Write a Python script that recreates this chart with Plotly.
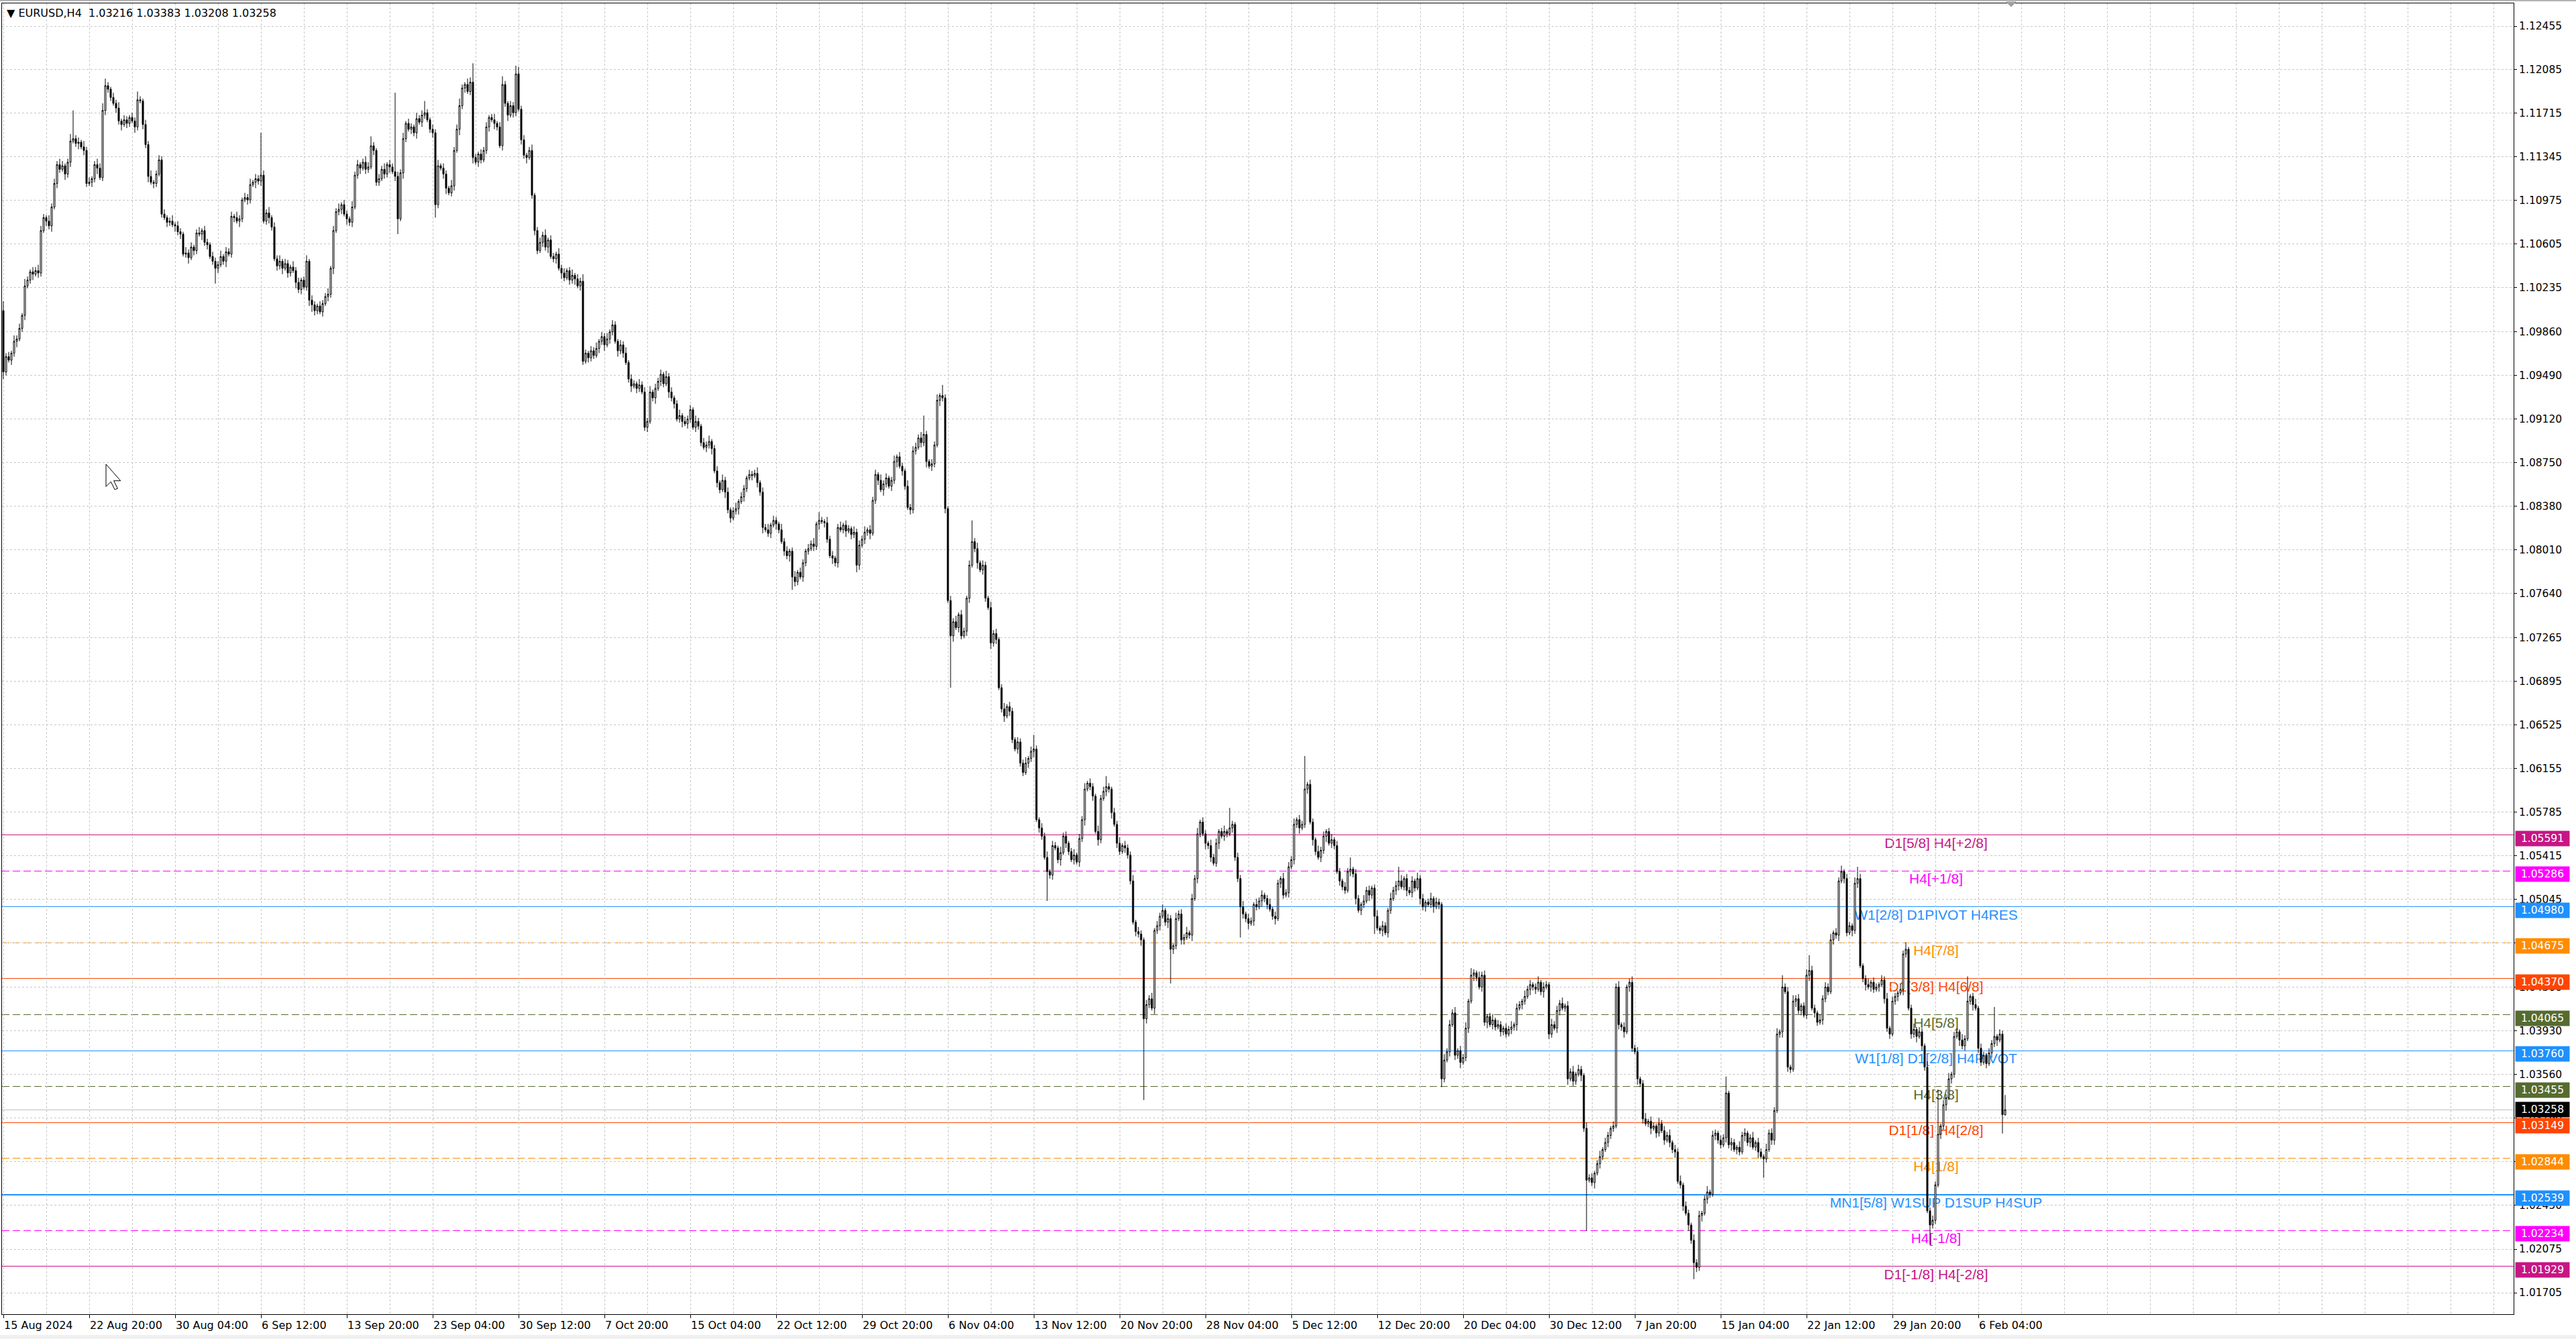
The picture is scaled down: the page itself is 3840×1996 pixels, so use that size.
import math
import plotly.graph_objects as go

# ---------------- data (prices in pips above 1.0000) ----------------
first_open_pips = 1004

close_pips = [
    952, 965, 962, 968, 978, 980, 989, 1000, 1025, 1030, 1037, 1035, 1038, 1036, 1072, 1083, 1080, 1076, 1092, 1112,
    1128, 1124, 1127, 1120, 1130, 1148, 1150, 1146, 1147, 1143, 1140, 1112, 1113, 1116, 1128, 1125, 1117, 1174, 1195, 1192,
    1185, 1180, 1176, 1165, 1162, 1166, 1163, 1168, 1165, 1160, 1183, 1182, 1162, 1145, 1118, 1113, 1112, 1120, 1132, 1086,
    1083, 1079, 1080, 1077, 1076, 1071, 1069, 1052, 1053, 1049, 1058, 1055, 1070, 1069, 1072, 1062, 1060, 1050, 1046, 1040,
    1043, 1050, 1046, 1054, 1052, 1084, 1083, 1080, 1082, 1098, 1100, 1098, 1111, 1113, 1116, 1114, 1119, 1080, 1087, 1083,
    1075, 1048, 1042, 1046, 1040, 1044, 1036, 1041, 1038, 1028, 1022, 1030, 1024, 1046, 1013, 1009, 1004, 1008, 1003, 1010,
    1016, 1018, 1040, 1072, 1088, 1090, 1094, 1086, 1082, 1079, 1092, 1119, 1128, 1125, 1130, 1124, 1126, 1144, 1140, 1113,
    1116, 1124, 1120, 1128, 1126, 1122, 1118, 1082, 1121, 1150, 1163, 1158, 1160, 1155, 1167, 1164, 1170, 1172, 1166, 1158,
    1155, 1094, 1127, 1125, 1120, 1108, 1104, 1110, 1140, 1158, 1178, 1193, 1196, 1190, 1198, 1134, 1130, 1137, 1132, 1140,
    1160, 1168, 1166, 1163, 1160, 1144, 1196, 1180, 1170, 1178, 1172, 1205, 1175, 1149, 1136, 1134, 1140, 1102, 1072, 1055,
    1062, 1068, 1058, 1064, 1050, 1048, 1052, 1040, 1036, 1032, 1038, 1030, 1034, 1031, 1025, 1029, 961, 968, 964, 970,
    966, 972, 978, 982, 975, 980, 986, 992, 978, 970, 975, 968, 960, 946, 940, 942, 938, 941, 935, 905,
    910, 935, 930, 938, 944, 950, 942, 948, 935, 930, 925, 912, 915, 910, 908, 912, 920, 905, 910, 906,
    892, 888, 890, 893, 887, 868, 858, 852, 860, 850, 835, 828, 834, 836, 842, 846, 853, 862, 865, 864,
    866, 858, 850, 820, 818, 815, 822, 826, 823, 818, 808, 800, 796, 800, 778, 774, 782, 778, 790, 800,
    802, 806, 804, 823, 826, 825, 824, 810, 796, 794, 790, 820, 818, 822, 817, 819, 814, 816, 788, 805,
    810, 816, 818, 815, 843, 865, 860, 852, 857, 862, 855, 860, 876, 880, 872, 868, 855, 837, 835, 885,
    888, 896, 892, 899, 876, 872, 874, 890, 928, 932, 930, 836, 758, 728, 740, 735, 746, 728, 732, 760,
    788, 808, 802, 790, 784, 788, 760, 752, 722, 730, 725, 684, 666, 660, 668, 664, 640, 632, 638, 620,
    612, 620, 624, 630, 632, 572, 565, 558, 540, 528, 525, 550, 548, 538, 544, 558, 552, 545, 538, 542,
    536, 556, 572, 598, 603, 600, 592, 562, 555, 590, 596, 600, 598, 578, 568, 552, 545, 550, 548, 542,
    520, 485, 477, 475, 470, 403, 415, 420, 412, 478, 482, 490, 495, 485, 488, 462, 465, 488, 492, 470,
    472, 476, 474, 505, 522, 560, 570, 560, 552, 550, 540, 535, 552, 562, 558, 562, 560, 565, 568, 540,
    522, 498, 492, 488, 484, 486, 500, 498, 503, 508, 505, 500, 496, 490, 488, 518, 522, 508, 510, 532,
    538, 568, 572, 565, 568, 598, 602, 570, 555, 545, 540, 546, 558, 562, 552, 555, 550, 528, 520, 515,
    512, 528, 530, 526, 505, 495, 500, 503, 512, 508, 514, 490, 480, 478, 482, 476, 495, 505, 512, 516,
    520, 515, 522, 512, 510, 520, 514, 522, 505, 498, 502, 500, 505, 498, 502, 500, 352, 368, 375, 398,
    408, 372, 376, 366, 370, 395, 418, 440, 442, 438, 430, 440, 400, 405, 398, 402, 396, 398, 392, 395,
    390, 394, 396, 398, 412, 415, 418, 422, 428, 432, 430, 428, 434, 426, 430, 432, 390, 398, 395, 410,
    416, 412, 414, 352, 358, 350, 356, 360, 355, 310, 266, 268, 264, 272, 280, 286, 292, 298, 304, 310,
    312, 430, 398, 396, 392, 430, 434, 378, 375, 352, 348, 318, 314, 316, 310, 312, 306, 314, 308, 300,
    304, 298, 292, 290, 265, 262, 244, 238, 228, 215, 196, 192, 236, 238, 250, 256, 254, 304, 306, 300,
    296, 302, 340, 296, 298, 292, 294, 290, 304, 306, 298, 302, 294, 298, 290, 286, 284, 292, 306, 300,
    325, 390, 392, 430, 426, 362, 360, 418, 420, 410, 414, 406, 440, 444, 412, 408, 400, 402, 420, 430,
    426, 470, 476, 474, 520, 528, 522, 476, 482, 478, 518, 522, 448, 437, 432, 430, 434, 428, 430, 432,
    436, 420, 395, 390, 418, 422, 425, 428, 458, 462, 412, 390, 394, 388, 392, 380, 362, 240, 228, 232,
    262, 305, 312, 330, 336, 352, 356, 388, 392, 385, 380, 386, 418, 422, 415, 412, 378, 366, 372, 365,
    374, 382, 388, 385, 390, 321.6, 325.8,
]

wick_up_pips = [
    8, 3, 4, 2, 5, 3, 4, 2, 6, 3, 2, 4, 3, 5, 4, 3, 2, 5, 3, 4,
    3, 5, 4, 2, 3, 6, 24, 3, 4, 2, 5, 3, 4, 2, 3, 5, 4, 6, 6, 3,
    2, 4, 3, 5, 2, 4, 3, 2, 4, 3, 7, 3, 2, 4, 3, 5, 2, 3, 4, 3,
    4, 2, 3, 5, 2, 4, 3, 2, 5, 3, 4, 2, 3, 5, 2, 4, 3, 2, 4, 3,
    3, 5, 2, 4, 3, 4, 2, 5, 3, 2, 4, 3, 5, 2, 4, 3, 36, 4, 3, 5,
    2, 4, 3, 5, 2, 4, 3, 2, 5, 3, 4, 2, 3, 5, 2, 4, 3, 2, 4, 3,
    3, 5, 2, 4, 3, 5, 2, 4, 3, 2, 5, 3, 4, 2, 3, 5, 4, 8, 3, 2,
    4, 3, 5, 2, 4, 3, 67, 4, 3, 5, 2, 4, 3, 2, 5, 3, 4, 10, 3, 2,
    4, 3, 5, 2, 4, 3, 2, 5, 3, 4, 6, 3, 2, 5, 4, 16, 3, 2, 4, 3,
    4, 2, 3, 5, 2, 4, 7, 3, 2, 4, 3, 7, 6, 3, 4, 2, 3, 5, 2, 3,
    4, 3, 5, 2, 4, 3, 2, 5, 3, 4, 2, 3, 5, 2, 4, 3, 6, 3, 2, 4,
    3, 5, 2, 4, 3, 5, 2, 4, 3, 2, 4, 3, 5, 2, 4, 3, 2, 5, 3, 4,
    3, 5, 2, 4, 3, 4, 2, 5, 3, 4, 2, 3, 5, 2, 4, 3, 4, 2, 5, 3,
    2, 4, 3, 5, 2, 3, 4, 2, 5, 3, 4, 2, 3, 5, 2, 4, 3, 2, 4, 3,
    3, 5, 2, 4, 3, 5, 2, 4, 3, 2, 5, 3, 4, 2, 3, 5, 2, 4, 3, 2,
    4, 3, 5, 2, 7, 3, 2, 5, 3, 4, 2, 3, 5, 2, 4, 3, 2, 5, 3, 4,
    3, 5, 2, 4, 3, 4, 2, 5, 3, 4, 2, 3, 5, 2, 4, 3, 2, 5, 3, 4,
    4, 3, 5, 16, 3, 2, 4, 3, 5, 2, 9, 3, 2, 4, 3, 5, 2, 4, 3, 2,
    4, 18, 3, 5, 2, 4, 3, 2, 5, 3, 4, 2, 3, 5, 2, 4, 3, 2, 4, 3,
    3, 5, 2, 4, 12, 3, 2, 4, 3, 5, 2, 4, 3, 2, 5, 3, 4, 2, 3, 5,
    2, 4, 3, 5, 2, 4, 3, 2, 5, 3, 4, 9, 3, 2, 4, 3, 5, 2, 4, 3,
    3, 5, 2, 4, 3, 2, 4, 3, 5, 2, 4, 3, 5, 2, 4, 3, 2, 5, 3, 4,
    3, 5, 2, 4, 3, 5, 2, 4, 3, 2, 5, 3, 4, 2, 3, 5, 2, 17, 3, 2,
    4, 3, 5, 2, 4, 3, 2, 5, 3, 4, 2, 3, 5, 2, 4, 3, 2, 5, 3, 4,
    3, 5, 2, 4, 3, 28, 2, 4, 3, 2, 5, 3, 4, 2, 3, 5, 2, 4, 3, 2,
    4, 3, 10, 2, 4, 3, 2, 5, 3, 4, 2, 3, 5, 2, 4, 3, 2, 5, 3, 4,
    12, 5, 2, 4, 3, 4, 2, 5, 3, 4, 2, 3, 5, 2, 4, 3, 2, 5, 3, 4,
    3, 5, 2, 4, 3, 5, 2, 6, 3, 2, 5, 3, 4, 2, 3, 5, 2, 4, 3, 2,
    4, 3, 5, 2, 4, 3, 2, 5, 3, 4, 2, 3, 5, 2, 4, 3, 2, 5, 3, 4,
    3, 5, 2, 4, 3, 5, 2, 4, 3, 2, 5, 3, 4, 2, 3, 5, 2, 4, 3, 2,
    4, 3, 5, 2, 4, 2, 3, 5, 3, 4, 2, 3, 5, 2, 4, 3, 2, 5, 3, 4,
    3, 5, 2, 4, 3, 5, 2, 4, 3, 2, 5, 3, 4, 2, 3, 5, 2, 4, 3, 2,
    4, 3, 14, 2, 4, 3, 2, 5, 3, 4, 2, 3, 5, 2, 4, 3, 2, 5, 3, 4,
    3, 5, 2, 10, 3, 4, 2, 5, 3, 4, 2, 3, 5, 13, 4, 3, 2, 5, 3, 4,
    3, 5, 2, 4, 3, 5, 2, 4, 3, 2, 5, 10, 4, 2, 3, 5, 2, 4, 3, 2,
    4, 3, 5, 2, 4, 3, 2, 5, 3, 6, 2, 3, 5, 2, 4, 3, 2, 5, 3, 4,
    3, 38, 2, 4, 3, 5, 2, 4, 3, 2, 5, 3, 21, 2, 3, 5, 2, 4, 3, 2,
    4, 3, 25, 2, 4, 3, 12.5,
]

wick_dn_pips = [
    6, 3, 2, 4, 3, 5, 2, 3, 4, 2, 3, 5, 2, 4, 3, 2, 4, 3, 5, 2,
    4, 3, 2, 5, 3, 4, 2, 3, 5, 2, 4, 3, 2, 4, 3, 5, 2, 3, 4, 3,
    3, 2, 4, 3, 5, 2, 4, 3, 2, 5, 3, 2, 4, 3, 5, 2, 4, 3, 2, 3,
    2, 4, 3, 2, 5, 3, 4, 2, 3, 5, 2, 4, 3, 2, 5, 3, 4, 2, 3, 13,
    4, 2, 3, 5, 2, 3, 4, 2, 5, 3, 2, 4, 3, 2, 5, 3, 4, 2, 3, 5,
    3, 2, 4, 3, 5, 2, 4, 3, 2, 5, 3, 4, 2, 3, 5, 6, 4, 3, 2, 4,
    2, 4, 3, 5, 2, 3, 4, 2, 5, 3, 4, 2, 3, 5, 2, 4, 3, 2, 4, 3,
    3, 2, 4, 3, 5, 2, 4, 13, 2, 5, 3, 2, 4, 3, 5, 2, 4, 3, 2, 3,
    4, 11, 3, 2, 4, 5, 2, 3, 4, 2, 5, 3, 4, 2, 3, 5, 2, 4, 3, 2,
    3, 4, 2, 5, 3, 2, 4, 3, 5, 2, 4, 3, 2, 4, 3, 5, 2, 3, 4, 3,
    2, 4, 3, 5, 2, 3, 4, 2, 5, 3, 2, 4, 3, 5, 2, 4, 3, 2, 4, 3,
    3, 2, 4, 3, 5, 2, 4, 3, 2, 5, 3, 4, 2, 3, 5, 2, 4, 3, 2, 3,
    4, 2, 3, 5, 2, 4, 3, 2, 5, 3, 4, 2, 3, 5, 2, 4, 3, 2, 4, 3,
    3, 2, 4, 3, 5, 2, 4, 3, 2, 5, 3, 4, 2, 3, 5, 2, 4, 3, 2, 4,
    2, 4, 3, 5, 2, 3, 4, 2, 5, 3, 2, 4, 3, 5, 11, 4, 3, 2, 4, 3,
    3, 2, 4, 3, 5, 2, 4, 3, 2, 5, 3, 4, 2, 3, 5, 2, 4, 3, 6, 4,
    2, 4, 3, 5, 2, 3, 4, 2, 5, 3, 2, 4, 3, 5, 2, 4, 3, 2, 4, 3,
    3, 2, 4, 3, 5, 2, 4, 3, 2, 5, 3, 4, 2, 44, 5, 2, 4, 3, 2, 4,
    4, 2, 3, 5, 2, 4, 3, 2, 5, 3, 4, 2, 3, 5, 2, 4, 3, 2, 4, 3,
    3, 2, 4, 3, 5, 2, 4, 3, 2, 25, 3, 4, 2, 3, 5, 2, 4, 3, 2, 4,
    2, 4, 3, 5, 2, 3, 4, 2, 5, 3, 2, 4, 3, 5, 2, 4, 3, 2, 4, 3,
    3, 2, 4, 3, 5, 69, 4, 3, 2, 5, 3, 4, 2, 3, 5, 29, 4, 3, 2, 4,
    4, 2, 3, 5, 2, 4, 3, 2, 5, 3, 4, 2, 3, 5, 2, 4, 3, 2, 4, 3,
    3, 26, 4, 3, 5, 2, 4, 3, 2, 5, 3, 4, 2, 3, 5, 2, 4, 3, 2, 4,
    2, 4, 3, 5, 2, 3, 4, 2, 5, 3, 2, 4, 3, 5, 2, 4, 3, 2, 4, 3,
    3, 2, 4, 3, 5, 2, 4, 3, 2, 5, 3, 15, 2, 3, 5, 2, 4, 3, 2, 4,
    4, 2, 3, 5, 2, 4, 3, 2, 5, 3, 4, 2, 3, 5, 2, 4, 7, 3, 2, 4,
    2, 4, 3, 5, 2, 3, 4, 2, 5, 3, 2, 4, 3, 5, 2, 4, 3, 2, 4, 3,
    3, 2, 4, 3, 5, 2, 4, 3, 2, 5, 3, 4, 2, 3, 5, 2, 4, 3, 2, 4,
    4, 2, 3, 5, 2, 4, 3, 2, 5, 3, 43, 2, 3, 5, 2, 4, 3, 2, 4, 3,
    3, 2, 4, 3, 5, 2, 4, 3, 2, 5, 3, 4, 2, 3, 5, 2, 4, 3, 2, 4,
    2, 4, 3, 5, 2, 3, 4, 2, 5, 3, 14, 4, 3, 5, 2, 4, 3, 2, 4, 3,
    3, 2, 4, 3, 5, 2, 4, 3, 2, 5, 3, 4, 2, 3, 5, 2, 16, 3, 2, 4,
    4, 2, 3, 5, 2, 4, 3, 2, 5, 3, 4, 2, 3, 5, 2, 4, 3, 2, 4, 3,
    3, 2, 4, 3, 5, 2, 4, 3, 2, 5, 3, 4, 2, 3, 5, 2, 4, 3, 2, 4,
    2, 4, 3, 4, 2, 3, 4, 2, 5, 3, 2, 4, 3, 5, 2, 4, 3, 2, 17, 3,
    3, 2, 4, 3, 5, 2, 4, 3, 2, 5, 3, 4, 2, 3, 5, 2, 4, 3, 2, 4,
    2, 4, 3, 5, 2, 16, 0.8,
]

date_labels = [
    "15 Aug 2024", "22 Aug 20:00", "30 Aug 04:00", "6 Sep 12:00", "13 Sep 20:00",
    "23 Sep 04:00", "30 Sep 12:00", "7 Oct 20:00", "15 Oct 04:00", "22 Oct 12:00",
    "29 Oct 20:00", "6 Nov 04:00", "13 Nov 12:00", "20 Nov 20:00", "28 Nov 04:00",
    "5 Dec 12:00", "12 Dec 20:00", "20 Dec 04:00", "30 Dec 12:00", "7 Jan 20:00",
    "15 Jan 04:00", "22 Jan 12:00", "29 Jan 20:00", "6 Feb 04:00",
]
bars_per_label = 32

price_ticks = [
    1.12455, 1.12085, 1.11715, 1.11345, 1.10975, 1.10605, 1.10235, 1.09860, 1.09490, 1.09120,
    1.08750, 1.08380, 1.08010, 1.07640, 1.07265, 1.06895, 1.06525, 1.06155, 1.05785, 1.05415,
    1.05045, 1.04675, 1.04300, 1.03930, 1.03560, 1.03190, 1.02820, 1.02450, 1.02075, 1.01705,
]

level_prices = [1.05591, 1.05286, 1.04980, 1.04675, 1.04370, 1.04065, 1.03760,
                1.03455, 1.03149, 1.02844, 1.02539, 1.02234, 1.01929]
level_names = ["D1[5/8] H4[+2/8]", "H4[+1/8]", "W1[2/8] D1PIVOT H4RES", "H4[7/8]",
               "D1[3/8] H4[6/8]", "H4[5/8]", "W1[1/8] D1[2/8] H4PIVOT", "H4[3/8]",
               "D1[1/8] H4[2/8]", "H4[1/8]", "MN1[5/8] W1SUP D1SUP H4SUP", "H4[-1/8]",
               "D1[-1/8] H4[-2/8]"]
level_colors = ["#C71585", "#FF00FF", "#1E90FF", "#FF8C00", "#FF4500", "#556B2F", "#1E90FF",
                "#556B2F", "#FF4500", "#FF8C00", "#1E90FF", "#FF00FF", "#C71585"]
level_dashes = ["solid", "11px,5px", "solid", "11px,5px", "solid", "11px,5px", "solid",
                "11px,5px", "solid", "11px,5px", "solid", "11px,5px", "solid"]
level_widths = [1, 1, 1, 1, 1, 1, 1, 1, 1, 1, 2, 1, 1]

last_price = 1.03258
header_text = "\u25BC EURUSD,H4\u00a0\u00a01.03216 1.03383 1.03208 1.03258"

# ---------------- build ----------------
n = len(close_pips)
assert len(wick_up_pips) == n, (len(wick_up_pips), n)
assert len(wick_dn_pips) == n, (len(wick_dn_pips), n)

close = [1 + v / 10000 for v in close_pips]
open_ = [1 + first_open_pips / 10000] + close[:-1]
high = [max(o, c) + u / 10000 for o, c, u in zip(open_, close, wick_up_pips)]
low = [min(o, c) - d / 10000 for o, c, d in zip(open_, close, wick_dn_pips)]
xs = list(range(n))

W, H = 3840, 1996
ML, MR, MT, MB = 3, 93, 5, 37
X_RANGE = [-0.5, 935.5]
Y_RANGE = [1.015229, 1.126486]
PL, PR, PT, PB = ML, W - MR, MT, H - MB
PLOT_H = PB - PT
PRICE_PER_PX = (Y_RANGE[1] - Y_RANGE[0]) / PLOT_H


def px_x(px):
    return (px - PL) / (PR - PL)


def px_y(py):
    return (PB - py) / (PB - PT)


def snap_price(p, width):
    """Move a horizontal line to the nearest pixel row so it renders crisp."""
    ypx = PT + (Y_RANGE[1] - p) / PRICE_PER_PX
    ys = round(ypx) if width % 2 == 0 else math.floor(ypx) + 0.5
    return Y_RANGE[1] - (ys - PT) * PRICE_PER_PX


AXIS_FONT = dict(family="DejaVu Sans", size=15.5, color="black")
GRID = "#c6c6c6"

fig = go.Figure()
fig.add_trace(go.Candlestick(
    x=xs, open=open_, high=high, low=low, close=close,
    increasing=dict(line=dict(color="black", width=1), fillcolor="white"),
    decreasing=dict(line=dict(color="black", width=1), fillcolor="black"),
    whiskerwidth=0, hoverinfo="skip", showlegend=False,
))

shapes = []
annotations = []

# current price line
lp = snap_price(last_price, 1)
shapes.append(dict(type="line", xref="x", yref="y", x0=X_RANGE[0], x1=X_RANGE[1],
                   y0=lp, y1=lp, layer="below", line=dict(color="#c0c0c0", width=1)))

label_center = 720.25
label_lift = 3 * PRICE_PER_PX
for p, name, col, dash, lw in zip(level_prices, level_names, level_colors, level_dashes, level_widths):
    ps = snap_price(p, lw)
    shapes.append(dict(type="line", xref="x", yref="y", x0=X_RANGE[0], x1=X_RANGE[1],
                       y0=ps, y1=ps, layer="below", line=dict(color=col, width=lw, dash=dash)))
    shapes.append(dict(type="line", xref="x", yref="y", x0=label_center - 100, x1=label_center + 100,
                       y0=p + label_lift, y1=p + label_lift, layer="below",
                       line=dict(color="rgba(0,0,0,0)", width=0),
                       label=dict(text=name, textposition="middle", yanchor="top", padding=1,
                                  font=dict(family="Liberation Sans", size=21, color=col))))
    annotations.append(dict(x=1, xref="paper", y=p, yref="y", xanchor="left", yanchor="middle",
                            xshift=2, yshift=-5, text="%.5f" % p, showarrow=False,
                            bgcolor=col, width=78, height=20, borderpad=1, align="center",
                            font=dict(family="DejaVu Sans", size=15.5, color="white")))

annotations.append(dict(x=1, xref="paper", y=last_price, yref="y", xanchor="left", yanchor="middle",
                        xshift=2, text="%.5f" % last_price, showarrow=False,
                        bgcolor="black", width=78, height=20, borderpad=1, align="center",
                        font=dict(family="DejaVu Sans", size=15.5, color="white")))

# time axis labels (left aligned at the tick like the terminal)
for k, lab in enumerate(date_labels):
    annotations.append(dict(x=k * bars_per_label, xref="x", y=0, yref="paper", xanchor="left",
                            yanchor="top", yshift=-5, xshift=-1, text=lab, showarrow=False,
                            font=dict(family="DejaVu Sans", size=16, color="black")))

# header
annotations.append(dict(x=0, xref="paper", y=1, yref="paper", xanchor="left", yanchor="top",
                        xshift=5, yshift=-3, text=header_text, showarrow=False,
                        font=dict(family="DejaVu Sans", size=16, color="black")))

# chart-shift marker triangle at top
shapes.append(dict(type="path", xref="paper", yref="paper",
                   path="M %f,%f L %f,%f L %f,%f Z" % (px_x(2991), px_y(3), px_x(3005), px_y(3), px_x(2998), px_y(10)),
                   fillcolor="#a0a0a0", line=dict(color="#a0a0a0", width=1)))
# window chrome: top grey line and bottom status strip
shapes.append(dict(type="rect", xref="paper", yref="paper", x0=px_x(0), x1=px_x(W), y0=px_y(0), y1=px_y(2),
                   fillcolor="#b4b4b4", line=dict(width=0)))
shapes.append(dict(type="rect", xref="paper", yref="paper", x0=px_x(0), x1=px_x(W), y0=px_y(1990), y1=px_y(W),
                   fillcolor="#f0f0f0", line=dict(width=0)))

# mouse cursor
cx, cy, s = 158, 692, 1.45
pts = [(0, 0), (0, 23), (5, 18), (9, 26), (12, 25), (8, 17), (15, 17)]
path = "M " + " L ".join("%f,%f" % (px_x(cx + a * s), px_y(cy + b * s)) for a, b in pts) + " Z"
shapes.append(dict(type="path", xref="paper", yref="paper", path=path,
                   fillcolor="white", line=dict(color="black", width=1)))

major = [k * bars_per_label for k in range(len(date_labels))]
minor = [v for v in range(16, 936, 16) if v not in major]

fig.update_layout(
    width=W, height=H, margin=dict(l=ML, r=MR, t=MT, b=MB, pad=0),
    paper_bgcolor="white", plot_bgcolor="white", showlegend=False,
    hovermode=False, boxgap=0.5, boxgroupgap=0.0,
    shapes=shapes, annotations=annotations,
    xaxis=dict(range=X_RANGE, showline=True, linecolor="black", linewidth=1, mirror=True,
               ticks="outside", ticklen=5, tickcolor="black", tickvals=major, showticklabels=False,
               showgrid=True, gridcolor=GRID, griddash="3px,3px", gridwidth=1, zeroline=False,
               minor=dict(tickvals=minor, showgrid=True, gridcolor=GRID, griddash="3px,3px", ticks=""),
               rangeslider=dict(visible=False), fixedrange=True),
    yaxis=dict(range=Y_RANGE, side="right", showline=True, linecolor="black", linewidth=1, mirror=True,
               ticks="outside", ticklen=4, tickcolor="black", tickvals=price_ticks,
               ticktext=["%.5f" % v for v in price_ticks], tickfont=AXIS_FONT,
               showgrid=True, gridcolor=GRID, griddash="3px,3px", gridwidth=1, zeroline=False,
               fixedrange=True),
)

fig.write_html("out.html", config={"displayModeBar": False, "staticPlot": True},
               post_script="document.body.style.margin='0';document.body.style.overflow='hidden';")
